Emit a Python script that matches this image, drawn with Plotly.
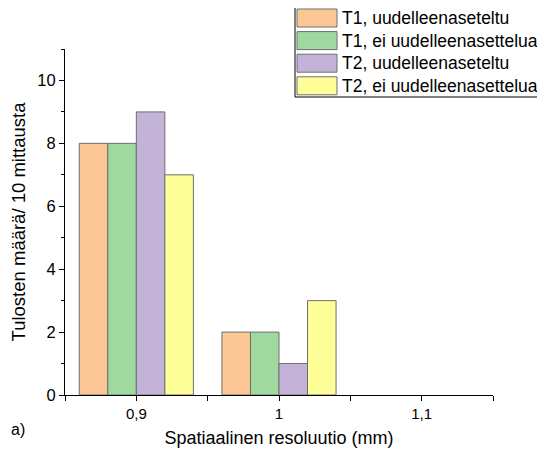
import plotly.graph_objects as go

categories = [0.9, 1.0, 1.1]
series_names = ["T1, uudelleenaseteltu", "T1, ei uudelleenasettelua",
                "T2, uudelleenaseteltu", "T2, ei uudelleenasettelua"]
t1_reset = [8, 2, 0]
t1_noreset = [8, 2, 0]
t2_reset = [9, 1, 0]
t2_noreset = [7, 3, 0]
series_values = [t1_reset, t1_noreset, t2_reset, t2_noreset]
colors = ["#FBC895", "#A0D9A0", "#C4B3D8", "#FFFF99"]

fig = go.Figure()
for name, vals, col in zip(series_names, series_values, colors):
    fig.add_trace(go.Bar(x=categories, y=vals, name=name,
                         marker=dict(color=col,
                                     line=dict(color="#6e6e6e",
                                               width=[1 if v else 0 for v in vals])),
                         showlegend=False))

# the page has an 8px body margin; lay out in window pixels then shift
OFF = 8
W, H = 545 - OFF, 454 - OFF
L, R, T, B = 65, 493, 49, 395
pw, ph = R - L, B - T

def px(x):
    return (x - L) / pw

def py(y):
    return (B - y) / ph

FONT = "Liberation Sans, Arial"
shapes = []
annotations = []
shapes.append(dict(type="rect", xref="paper", yref="paper",
                   x0=px(295), x1=px(548), y0=py(97), y1=py(5),
                   line=dict(color="black", width=1), fillcolor="white", layer="above"))
x0, y0, pitch = 297, 9, 22.6
for i, (name, col) in enumerate(zip(series_names, colors)):
    top = y0 + i * pitch
    bot = top + 18
    shapes.append(dict(type="rect", xref="paper", yref="paper",
                       x0=px(x0), x1=px(337), y0=py(bot), y1=py(top),
                       line=dict(color="#6e6e6e", width=1), fillcolor=col, layer="above"))
    annotations.append(dict(text=name, xref="paper", yref="paper",
                            x=px(340), y=py((top + bot) / 2),
                            xanchor="left", yanchor="middle", showarrow=False,
                            font=dict(size=17.5, color="black", family=FONT)))

annotations.append(dict(text="a)", xref="paper", yref="paper",
                        x=px(9), y=py(429),
                        xanchor="left", yanchor="middle", showarrow=False,
                        font=dict(size=16, color="black", family=FONT)))

fig.update_layout(
    width=W, height=H,
    margin=dict(l=L - OFF, r=545 - R, t=T - OFF, b=454 - B, autoexpand=False),
    plot_bgcolor="white", paper_bgcolor="white",
    barmode="group", bargap=0.2, bargroupgap=0,
    separators=",.",
    font=dict(family=FONT, size=16, color="black"),
    shapes=shapes, annotations=annotations,
    xaxis=dict(range=[0.85, 1.15], tickmode="array", tickvals=categories,
               ticktext=["0,9", "1", "1,1"], automargin=False,
               showline=True, linecolor="black", linewidth=1,
               ticks="outside", ticklen=5, tickcolor="black", showgrid=False, zeroline=False,
               minor=dict(tickvals=[0.85, 0.95, 1.05, 1.15], ticks="outside", ticklen=5, tickcolor="black"),
               title=dict(text="Spatiaalinen resoluutio (mm)", font=dict(size=18), standoff=10),
               tickfont=dict(size=15)),
    yaxis=dict(range=[0, 11], dtick=2, tick0=0, automargin=False,
               showline=True, linecolor="black", linewidth=1,
               ticks="outside", ticklen=5, tickcolor="black", showgrid=False, zeroline=False,
               minor=dict(dtick=1, ticks="outside", ticklen=3, tickcolor="black"),
               title=dict(text="Tulosten määrä/ 10 mittausta", font=dict(size=18.5), standoff=9),
               tickfont=dict(size=16.5)),
)

fig.write_html("out.html")
